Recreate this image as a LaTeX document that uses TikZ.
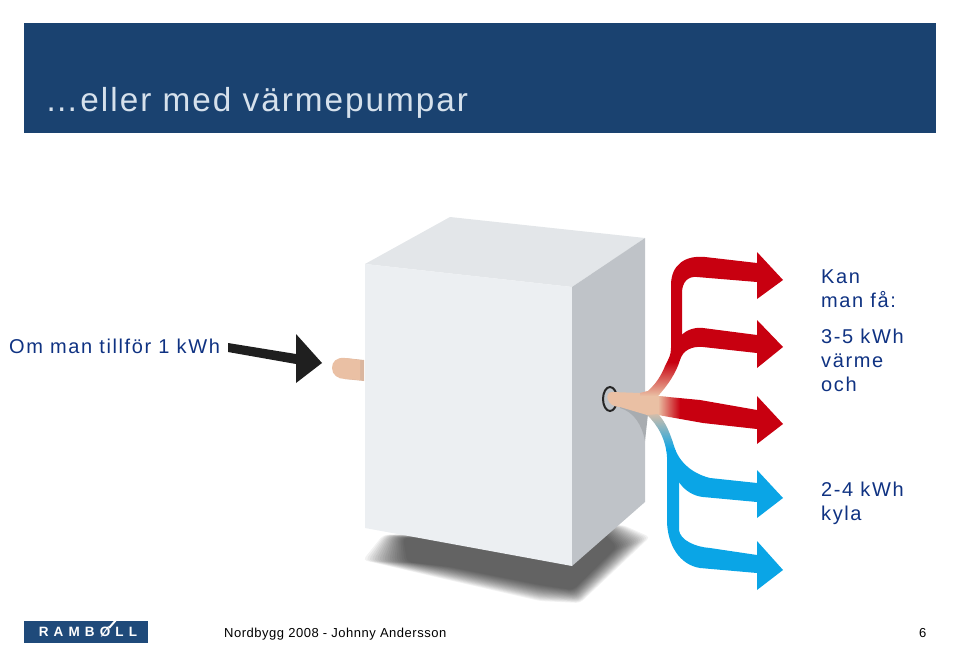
\documentclass[tikz,border=0pt]{standalone}
\usepackage{fontspec}
\setmainfont{Liberation Sans}
\newfontfamily\titlefont[LetterSpace=6]{Liberation Sans}
\newfontfamily\spacedfont[LetterSpace=8]{Liberation Sans}
\newfontfamily\footerfont[LetterSpace=4]{Liberation Sans}
\newfontfamily\logofont[LetterSpace=38]{Liberation Sans}
\usetikzlibrary{positioning}
\definecolor{bannercolor}{RGB}{26,66,112}
\definecolor{titlecolor}{RGB}{214,225,236}
\definecolor{textcolor}{RGB}{15,50,130}
\definecolor{frontcolor}{RGB}{236,239,242}
\definecolor{topcolor}{RGB}{227,230,233}
\definecolor{sidecolor}{RGB}{191,195,200}
\definecolor{peachcolor}{RGB}{234,192,164}
\definecolor{heatcolor}{RGB}{200,0,16}
\definecolor{coolcolor}{RGB}{10,165,230}
\definecolor{midcolor}{RGB}{165,190,210}
\definecolor{logocolor}{RGB}{31,74,122}

\begin{document}
\begin{tikzpicture}[
    x=1pt, y=-1pt,
    label/.style={anchor=north west, inner sep=0pt, text=textcolor, font=\fontsize{20}{24}\selectfont\spacedfont, align=left},
    footer/.style={anchor=base west, inner sep=0pt, text=black, font=\fontsize{13}{15}\selectfont\footerfont},
    face/.style={line width=0pt}
]
\useasboundingbox (0,0) rectangle (960,666);

% Header
\fill[bannercolor] (24,23) rectangle (936,133);
\node[anchor=base west, inner sep=0pt, text=titlecolor, font=\fontsize{33.3}{38}\selectfont\titlefont] (title) at (45,111) {…eller med värmepumpar};

% Shadow below the box
\foreach \s in {0,...,17} {
    \pgfmathsetmacro{\t}{\s/17}
    \fill[black, opacity=0.05, rounded corners=4pt] (363+44*\t,560+2*\t) -- (383+20*\t,535+3*\t) -- (623-23*\t,525+5*\t) -- (650-33*\t,537+10*\t) -- (580-7*\t,603-13*\t) -- (540,601-16*\t) -- (440+10*\t,578-11*\t) -- cycle;
}

% Box
\fill[topcolor, face] (365,264) -- (450,217) -- (645,238) -- (572,287) -- cycle;
\fill[frontcolor, face] (365,264) -- (572,287) -- (572,566) -- (365,528) -- cycle;
\fill[sidecolor, face] (572,287) -- (645,238) -- (645,502) -- (572,566) -- cycle;

% Pipe stub on the left
\fill[peachcolor!85!gray, face] (345,358) -- (364,360) -- (364,381) -- (345,379) -- cycle;
\fill[peachcolor, face] (345,358) .. controls (336,357) and (332,362) .. (332,368) .. controls (332,375) and (338,379) .. (345,379) -- (360,380) -- (360,360) -- cycle;

% Input arrow
\fill[black!88] (228,343) -- (296,354) -- (296,334) -- (322,363) -- (296,383) -- (296,364) -- (228,352) -- cycle;

% Shade under the outlet and the outlet ring
\fill[sidecolor!88!black, face] (620,405) -- (648,414) -- (645,441) .. controls (642,425) and (634,412) .. (620,408) -- cycle;
\draw[black!85, line width=2pt] (610,399) ellipse (7 and 12);

% Heat branches
\begin{scope}
\clip (612,392) -- (640,393) -- (648,391) .. controls (656,384) and (662,374) .. (665,366) .. controls (669,358) and (671,355) .. (671,348) -- (671,285) .. controls (671,265) and (685,255) .. (705,257) -- (757,263) -- (757,252) -- (783,280) -- (757,299) -- (757,282) -- (697,277) .. controls (688,276) and (682,282) .. (682,293) -- (682,335) .. controls (686,330) and (695,327) .. (703,328) -- (757,335) -- (757,320) -- (783,347) -- (757,368) -- (757,353) -- (703,347) .. controls (692,346) and (683,350) .. (680,360) .. controls (676,373) and (668,385) .. (658,396) -- (700,400) -- (757,410) -- (757,396) -- (783,424) -- (757,444) -- (757,429) -- (703,423) -- (658,415) -- (647,415) -- (620,407) .. controls (606,407) and (604,392) .. (612,392) -- cycle;
\fill[peachcolor] (600,385) rectangle (660,420);
\shade[top color=heatcolor, bottom color=peachcolor] (640,362) rectangle (690,396);
\shade[left color=peachcolor, right color=heatcolor] (658,396) rectangle (680,430);
\fill[heatcolor] (680,396) rectangle (790,450);
\fill[heatcolor] (640,240) rectangle (790,362);
\fill[heatcolor] (690,362) rectangle (790,396);
\end{scope}

% Cooling branches
\begin{scope}
\clip (647,415) -- (658,414) .. controls (666,422) and (671,436) .. (674,446) .. controls (678,460) and (690,473) .. (710,478) -- (757,483) -- (757,470) -- (783,498) -- (757,518) -- (757,502) -- (703,497) .. controls (693,496) and (684,490) .. (679,482) -- (679,530) .. controls (680,540) and (695,547) .. (710,548) -- (757,555) -- (757,541) -- (783,570) -- (757,590) -- (757,573) -- (700,568) .. controls (680,565) and (667,545) .. (667,520) -- (667,457) .. controls (666,440) and (658,425) .. (647,415) -- cycle;
\shade[top color=peachcolor, middle color=midcolor, bottom color=coolcolor] (630,410) rectangle (690,450);
\fill[coolcolor] (630,450) rectangle (790,600);
\fill[coolcolor] (690,410) rectangle (790,450);
\end{scope}

% Labels
\node[label, anchor=base west] (input) at (9,353) {Om man tillför 1 kWh};
\node[label] (get) at (821,270) {Kan\\man få:};
\node[label] (heat) at (821,329) {3-5 kWh\\värme\\och};
\node[label] (cool) at (821,482) {2-4 kWh\\kyla};

% Footer
\fill[logocolor] (24,621) rectangle (148,643);
\node[inner sep=0pt, text=white, font=\fontsize{13.5}{16}\selectfont\bfseries\logofont] (logo) at (88,632) {RAMBØLL};
\draw[white, line width=2pt] (109,628) -- (116,620);
\node[footer] (event) at (224,637) {Nordbygg 2008 - Johnny Andersson};
\node[footer] (page) at (919,637) {6};
\end{tikzpicture}
\end{document}
